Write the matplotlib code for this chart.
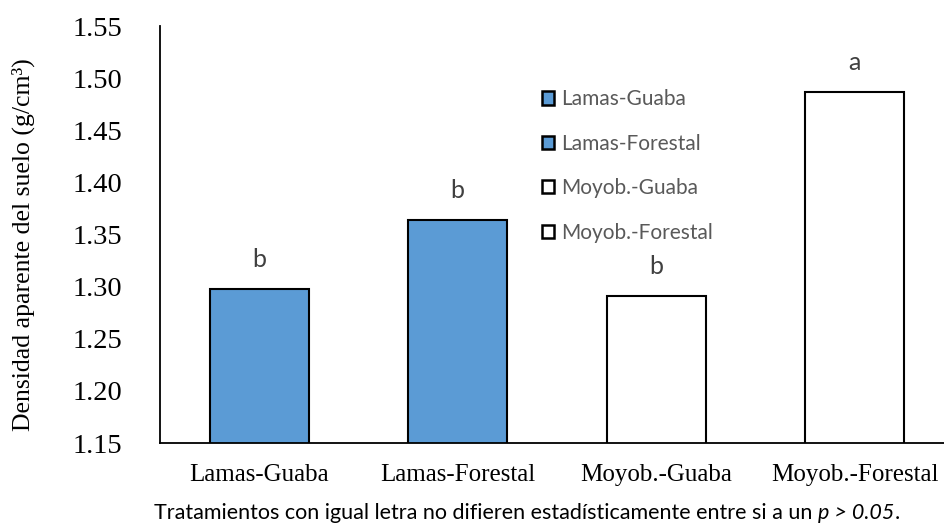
import numpy as np
import matplotlib.pyplot as plt
from matplotlib.patches import Patch

# bulk density per treatment
tratamientos = ['Lamas-Guaba', 'Lamas-Forestal', 'Moyob.-Guaba', 'Moyob.-Forestal']
densidad = [1.298, 1.364, 1.291, 1.487]
letras = ['b', 'b', 'b', 'a']
colores = ['#5B9BD5', '#5B9BD5', '#FFFFFF', '#FFFFFF']
y_ticks = [1.15, 1.20, 1.25, 1.30, 1.35, 1.40, 1.45, 1.50, 1.55]

serif = 'Liberation Serif'
sans = 'Lato'

fig = plt.figure(figsize=(9.45, 5.27), dpi=100)
ax = fig.add_axes([160 / 945, 84 / 527, 794 / 945, 417 / 527])

x = np.arange(len(tratamientos))
bars = ax.bar(x, densidad, width=0.5, color=colores, edgecolor='black',
              linewidth=1.5)

ax.set_xlim(-0.5, 3.5)
ax.set_ylim(1.15, 1.55)
ax.set_yticks(y_ticks)
ax.set_yticklabels(['%.2f' % v for v in y_ticks], fontfamily=serif, fontsize=20.5)
ax.set_xticks(x)
ax.set_xticklabels(tratamientos, fontfamily=serif, fontsize=18)
ax.tick_params(axis='y', length=0, pad=27)
ax.tick_params(axis='x', length=0, pad=15)

for s in ['top', 'right']:
    ax.spines[s].set_visible(False)
for s in ['left', 'bottom']:
    ax.spines[s].set_linewidth(1.3)

ax.set_ylabel('Densidad aparente del suelo (g/cm³)', fontfamily=serif,
              fontsize=18.5)
ax.yaxis.set_label_coords(-0.158, 0.475)

# significance letters above the bars
for xi, v, l in zip(x, densidad, letras):
    ax.annotate(l, xy=(xi, v), xytext=(0, 13), textcoords='offset points',
                ha='center', va='bottom', fontfamily=sans, fontsize=18,
                color='#404040')

handles = [Patch(facecolor=c, edgecolor='black', linewidth=1.8) for c in colores]
leg = ax.legend(handles, tratamientos, loc='upper left',
                bbox_to_anchor=(0.47, 0.868), frameon=False,
                prop={'family': sans, 'size': 15}, labelspacing=1.17,
                handlelength=0.6, handleheight=0.6, handletextpad=0.35,
                borderaxespad=0)
for t in leg.get_texts():
    t.set_color('#595959')

# footnote with italic p-value
t1 = fig.text(154 / 945, 14 / 527,
              'Tratamientos con igual letra no difieren estadísticamente entre si a un ',
              fontfamily=sans, fontsize=15.5, ha='left', va='center')
t2 = ax.annotate('p > 0.05', xy=(1, 0), xycoords=t1, ha='left', va='bottom',
                 fontfamily=sans, fontsize=15.5, fontstyle='italic')
ax.annotate('.', xy=(1, 0), xycoords=t2, ha='left', va='bottom',
            fontfamily=sans, fontsize=15.5)

fig.savefig('out.png', dpi=100)
